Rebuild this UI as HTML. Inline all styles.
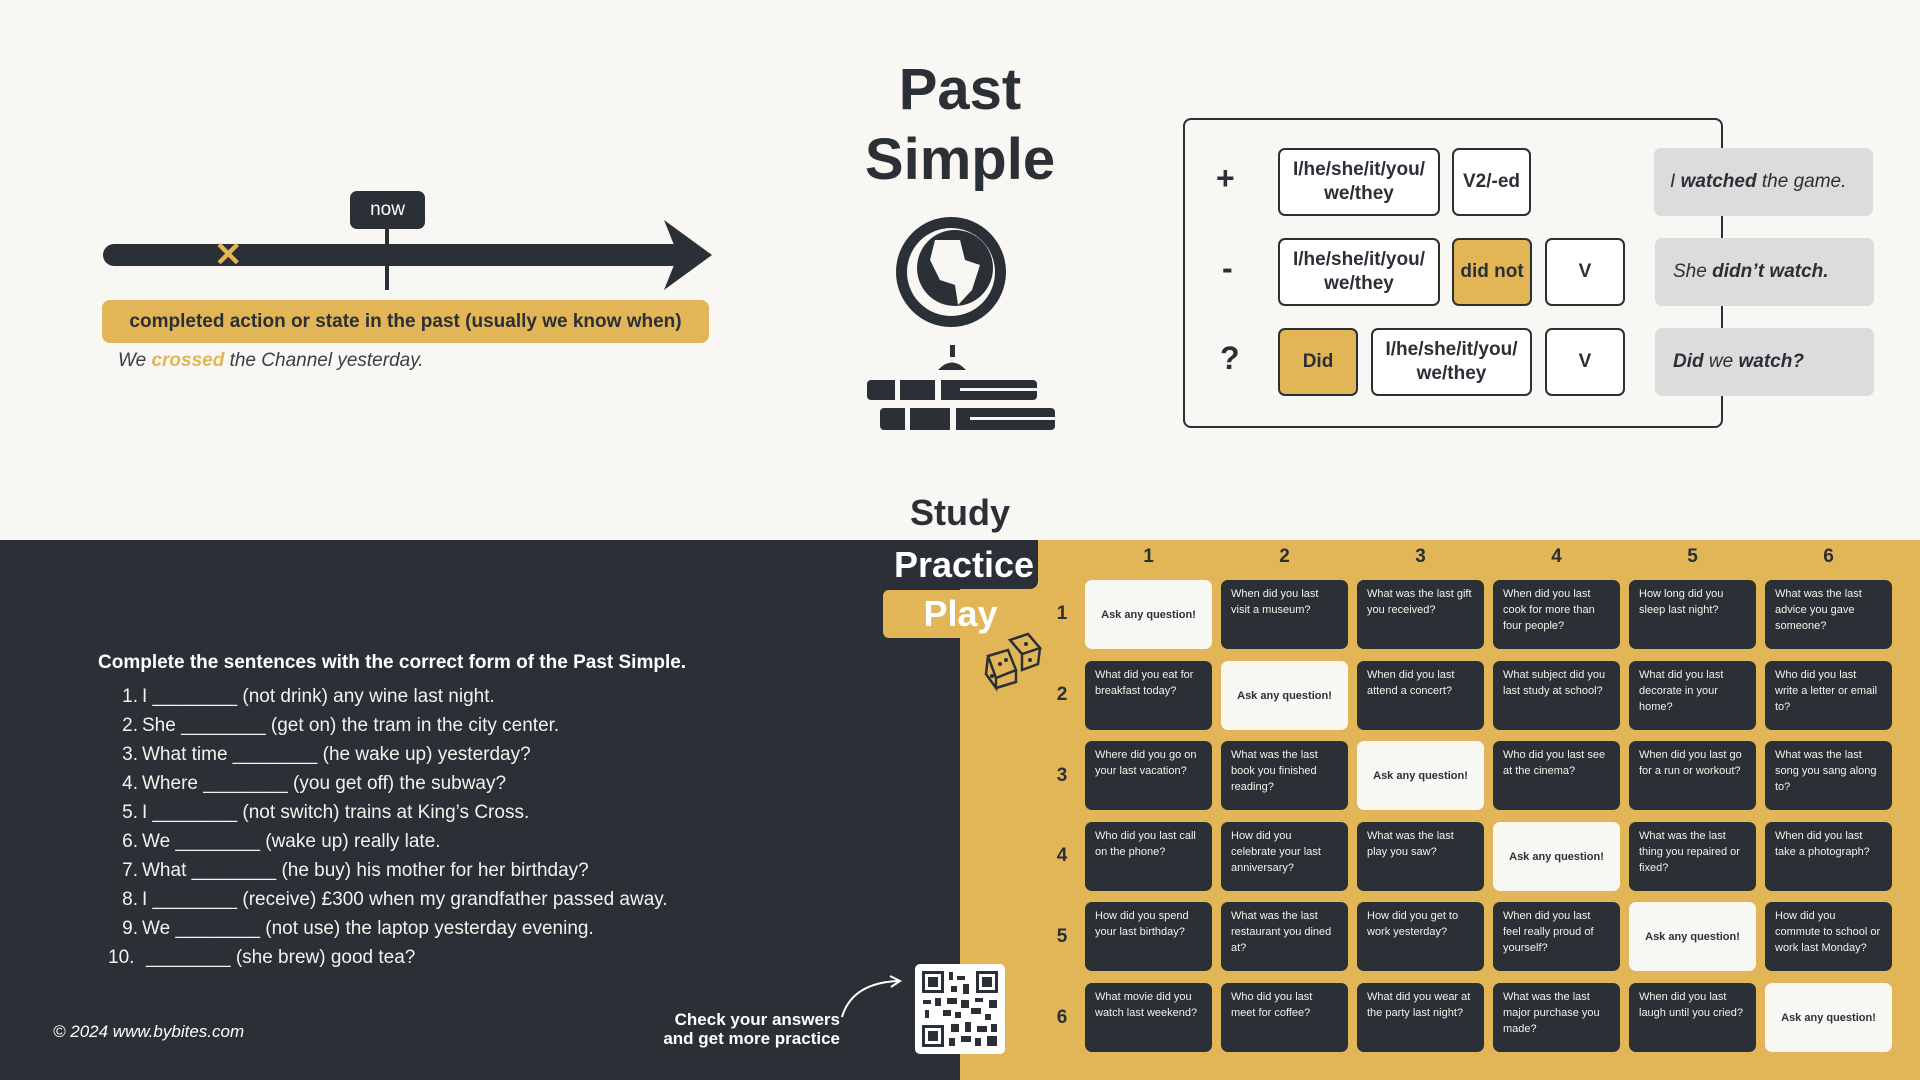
<!DOCTYPE html>
<html><head><meta charset="utf-8"><style>
*{margin:0;padding:0;box-sizing:border-box}
body{width:1920px;height:1080px;position:relative;overflow:hidden;background:#f8f7f3;font-family:"Liberation Sans",sans-serif;color:#2b2f36}
.a{position:absolute}
.c{position:absolute;border:2px solid #2b2f36;border-radius:7px;background:#fff;display:flex;align-items:center;justify-content:center;text-align:center;font-weight:bold;font-size:19px;line-height:24px}
.y{background:#e2b656}
.g{position:absolute;background:#dcdcdc;border-radius:7px;display:flex;align-items:center;padding-left:18px;font-style:italic;font-size:19px}
.cell{position:absolute;width:127px;height:69px;border-radius:7px;background:#2b2f36;color:#f4f2ec;font-size:11px;line-height:16px;padding:6px 10px}
.ask{background:#f8f7f3;color:#2b2f36;font-weight:bold;display:flex;align-items:center;justify-content:center;padding:0}
.ch{position:absolute;font-weight:bold;font-size:19px;color:#2b2f36;width:127px;text-align:center}
.rh{position:absolute;font-weight:bold;font-size:19px;color:#2b2f36;left:1052px;width:20px;text-align:center}
.ex{position:absolute;left:108px;font-size:19px;color:#f4f2ec}
.ex b{display:inline-block;width:30px;text-align:right;font-weight:normal;margin-right:4px}
</style></head><body>

<!-- timeline -->
<div class="a" style="left:103px;top:244px;width:580px;height:22px;background:#2b2f36;border-radius:11px"></div>
<svg class="a" style="left:660px;top:218px" width="56" height="74"><path d="M4 2 L52 37 L4 72 L18 37 Z" fill="#2b2f36"/></svg>
<div class="a" style="left:385px;top:220px;width:4px;height:70px;background:#2b2f36"></div>
<div class="a" style="left:350px;top:191px;width:75px;height:38px;background:#2b2f36;border-radius:7px;color:#fff;font-size:19px;text-align:center;line-height:38px">now</div>
<div class="a" style="left:214px;top:235px;font-size:34px;color:#e2b656;font-weight:bold;line-height:40px">✕</div>
<div class="a" style="left:102px;top:300px;width:607px;height:43px;background:#e2b656;border-radius:8px;font-weight:bold;font-size:19px;line-height:43px;text-align:center">completed action or state in the past (usually we know when)</div>
<div class="a" style="left:118px;top:350px;font-style:italic;font-size:19px;color:#3a3e45">We <span style="color:#e2b656;font-weight:bold">crossed</span> the Channel yesterday.</div>

<!-- title -->
<div class="a" style="left:760px;top:55px;width:400px;text-align:center;font-weight:bold;font-size:58px;line-height:70px">Past<br>Simple</div>
<svg class="a" style="left:860px;top:210px" width="200" height="225">
<circle cx="91" cy="62" r="55" fill="#2b2f36"/>
<circle cx="91" cy="62" r="44" fill="#f8f7f3"/>
<circle cx="95" cy="58" r="38" fill="#2b2f36"/>
<path d="M75 30 L100 30 L105 50 L120 55 L112 80 L98 95 L95 75 L80 70 L70 50 Z" fill="#f8f7f3"/>
<rect x="90" y="135" width="5" height="12" fill="#2b2f36"/>
<path d="M78 160 Q92 145 106 160 Z" fill="#2b2f36"/>
<rect x="7" y="170" width="170" height="20" rx="4" fill="#2b2f36"/>
<rect x="20" y="198" width="175" height="22" rx="4" fill="#2b2f36"/>
<rect x="35" y="170" width="5" height="20" fill="#f8f7f3"/><rect x="75" y="170" width="6" height="20" fill="#f8f7f3"/>
<rect x="45" y="198" width="5" height="22" fill="#f8f7f3"/><rect x="90" y="198" width="6" height="22" fill="#f8f7f3"/>
<rect x="100" y="178" width="80" height="3" fill="#f8f7f3"/><rect x="110" y="207" width="90" height="3" fill="#f8f7f3"/>
</svg>

<!-- grammar table -->
<div class="a" style="left:1183px;top:118px;width:540px;height:310px;border:2px solid #2b2f36;border-radius:8px"></div>
<div class="a" style="left:1216px;top:160px;font-size:32px;font-weight:bold">+</div>
<div class="a" style="left:1222px;top:250px;font-size:32px;font-weight:bold">-</div>
<div class="a" style="left:1220px;top:340px;font-size:32px;font-weight:bold">?</div>
<div class="c" style="left:1278px;top:148px;width:162px;height:68px">I/he/she/it/you/<br>we/they</div>
<div class="c" style="left:1452px;top:148px;width:79px;height:68px">V2/-ed</div>
<div class="c" style="left:1278px;top:238px;width:162px;height:68px">I/he/she/it/you/<br>we/they</div>
<div class="c y" style="left:1452px;top:238px;width:80px;height:68px">did not</div>
<div class="c" style="left:1545px;top:238px;width:80px;height:68px">V</div>
<div class="c y" style="left:1278px;top:328px;width:80px;height:68px">Did</div>
<div class="c" style="left:1371px;top:328px;width:161px;height:68px">I/he/she/it/you/<br>we/they</div>
<div class="c" style="left:1545px;top:328px;width:80px;height:68px">V</div>
<div class="g" style="left:1654px;top:148px;width:219px;height:68px;padding-left:16px">I&nbsp;<b>watched</b>&nbsp;the game.</div>
<div class="g" style="left:1655px;top:238px;width:219px;height:68px">She&nbsp;<b>didn’t watch.</b></div>
<div class="g" style="left:1655px;top:328px;width:219px;height:68px"><b>Did</b>&nbsp;we&nbsp;<b>watch?</b></div>

<!-- bottom panels -->
<div class="a" style="left:0;top:540px;width:960px;height:540px;background:#2b2f36"></div>
<div class="a" style="left:960px;top:540px;width:960px;height:540px;background:#e2b656"></div>
<div class="a" style="left:760px;top:492px;width:400px;text-align:center;font-weight:bold;font-size:36px">Study</div>
<div class="a" style="left:890px;top:540px;width:148px;height:49px;background:#2b2f36;border-radius:0 0 8px 0;color:#fff;font-weight:bold;font-size:36px;text-align:center;line-height:49px">Practice</div>
<div class="a" style="left:883px;top:590px;width:155px;height:48px;background:#e2b656;border-radius:6px;color:#fff;font-weight:bold;font-size:36px;text-align:center;line-height:48px">Play</div>
<svg class="a" style="left:982px;top:630px" width="64" height="64"><g fill="none" stroke="#2b2f36" stroke-width="2.5"><path d="M6 26 L26 20 L34 40 L14 48 Z"/><path d="M6 26 L4 44 L14 58 L14 48"/><path d="M14 58 L34 52 L34 40"/><path d="M28 10 L46 4 L58 18 L40 24 Z"/><path d="M40 24 L40 40 L56 34 L58 18"/></g><g fill="#2b2f36"><circle cx="18" cy="34" r="2"/><circle cx="24" cy="30" r="2"/><circle cx="10" cy="46" r="2"/><circle cx="44" cy="14" r="2"/><circle cx="48" cy="30" r="2"/></g></svg>

<div class="a" style="left:98px;top:652px;font-weight:bold;font-size:19px;color:#fff">Complete the sentences with the correct form of the Past Simple.</div>
<div class="ex" style="top:686px"><b>1.</b>I ________ (not drink) any wine last night.</div>
<div class="ex" style="top:715px"><b>2.</b>She ________ (get on) the tram in the city center.</div>
<div class="ex" style="top:744px"><b>3.</b>What time ________ (he wake up) yesterday?</div>
<div class="ex" style="top:773px"><b>4.</b>Where ________ (you get off) the subway?</div>
<div class="ex" style="top:802px"><b>5.</b>I ________ (not switch) trains at King’s Cross.</div>
<div class="ex" style="top:831px"><b>6.</b>We ________ (wake up) really late.</div>
<div class="ex" style="top:860px"><b>7.</b>What ________ (he buy) his mother for her birthday?</div>
<div class="ex" style="top:889px"><b>8.</b>I ________ (receive) £300 when my grandfather passed away.</div>
<div class="ex" style="top:918px"><b>9.</b>We ________ (not use) the laptop yesterday evening.</div>
<div class="ex" style="top:947px"><b style="width:26px;margin-right:12px">10.</b>________ (she brew) good tea?</div>
<div class="a" style="left:53px;top:1022px;font-style:italic;font-size:17px;color:#fff">© 2024 www.bybites.com</div>
<div class="a" style="left:600px;top:1010px;width:240px;text-align:right;font-weight:bold;font-size:17px;line-height:19px;color:#fff">Check your answers<br>and get more practice</div>
<svg class="a" style="left:838px;top:975px" width="70" height="45"><path d="M4 42 Q14 8 60 6" fill="none" stroke="#fff" stroke-width="2"/><path d="M52 1 L62 6 L53 12" fill="none" stroke="#fff" stroke-width="2"/></svg>
<svg class="a" style="left:915px;top:964px" width="90" height="90"><rect width="90" height="90" rx="5" fill="#fff"/>
<g fill="#2b2f36"><rect x="7" y="7" width="22" height="22"/><rect x="61" y="7" width="22" height="22"/><rect x="7" y="61" width="22" height="22"/></g>
<g fill="#fff"><rect x="10" y="10" width="16" height="16"/><rect x="64" y="10" width="16" height="16"/><rect x="10" y="64" width="16" height="16"/></g>
<g fill="#2b2f36"><rect x="13" y="13" width="10" height="10"/><rect x="67" y="13" width="10" height="10"/><rect x="13" y="67" width="10" height="10"/>
<rect x="34" y="8" width="4" height="8"/><rect x="42" y="12" width="8" height="4"/><rect x="36" y="22" width="6" height="6"/><rect x="48" y="20" width="6" height="10"/>
<rect x="8" y="36" width="8" height="4"/><rect x="20" y="34" width="6" height="8"/><rect x="32" y="34" width="10" height="6"/><rect x="46" y="36" width="8" height="8"/><rect x="60" y="34" width="8" height="4"/><rect x="74" y="36" width="8" height="8"/>
<rect x="10" y="46" width="4" height="8"/><rect x="28" y="46" width="8" height="6"/><rect x="40" y="48" width="6" height="6"/><rect x="56" y="44" width="10" height="6"/><rect x="70" y="50" width="6" height="6"/>
<rect x="36" y="60" width="8" height="8"/><rect x="50" y="58" width="6" height="10"/><rect x="62" y="62" width="10" height="6"/><rect x="76" y="60" width="6" height="8"/>
<rect x="34" y="74" width="6" height="8"/><rect x="46" y="72" width="10" height="6"/><rect x="60" y="74" width="6" height="8"/><rect x="72" y="72" width="10" height="10"/></g></svg>

<!-- game grid -->
<div class="ch" style="left:1085px;top:546px">1</div>
<div class="ch" style="left:1221px;top:546px">2</div>
<div class="ch" style="left:1357px;top:546px">3</div>
<div class="ch" style="left:1493px;top:546px">4</div>
<div class="ch" style="left:1629px;top:546px">5</div>
<div class="ch" style="left:1765px;top:546px">6</div>
<div class="rh" style="top:603px">1</div>
<div class="rh" style="top:684px">2</div>
<div class="rh" style="top:765px">3</div>
<div class="rh" style="top:845px">4</div>
<div class="rh" style="top:926px">5</div>
<div class="rh" style="top:1007px">6</div>

<div class="cell ask" style="left:1085px;top:580px">Ask any question!</div>
<div class="cell" style="left:1221px;top:580px">When did you last visit a museum?</div>
<div class="cell" style="left:1357px;top:580px">What was the last gift you received?</div>
<div class="cell" style="left:1493px;top:580px">When did you last cook for more than four people?</div>
<div class="cell" style="left:1629px;top:580px">How long did you sleep last night?</div>
<div class="cell" style="left:1765px;top:580px">What was the last advice you gave someone?</div>

<div class="cell" style="left:1085px;top:661px">What did you eat for breakfast today?</div>
<div class="cell ask" style="left:1221px;top:661px">Ask any question!</div>
<div class="cell" style="left:1357px;top:661px">When did you last attend a concert?</div>
<div class="cell" style="left:1493px;top:661px">What subject did you last study at school?</div>
<div class="cell" style="left:1629px;top:661px">What did you last decorate in your home?</div>
<div class="cell" style="left:1765px;top:661px">Who did you last write a letter or email to?</div>

<div class="cell" style="left:1085px;top:741px">Where did you go on your last vacation?</div>
<div class="cell" style="left:1221px;top:741px">What was the last book you finished reading?</div>
<div class="cell ask" style="left:1357px;top:741px">Ask any question!</div>
<div class="cell" style="left:1493px;top:741px">Who did you last see at the cinema?</div>
<div class="cell" style="left:1629px;top:741px">When did you last go for a run or workout?</div>
<div class="cell" style="left:1765px;top:741px">What was the last song you sang along to?</div>

<div class="cell" style="left:1085px;top:822px">Who did you last call on the phone?</div>
<div class="cell" style="left:1221px;top:822px">How did you celebrate your last anniversary?</div>
<div class="cell" style="left:1357px;top:822px">What was the last play you saw?</div>
<div class="cell ask" style="left:1493px;top:822px">Ask any question!</div>
<div class="cell" style="left:1629px;top:822px">What was the last thing you repaired or fixed?</div>
<div class="cell" style="left:1765px;top:822px">When did you last take a photograph?</div>

<div class="cell" style="left:1085px;top:902px">How did you spend your last birthday?</div>
<div class="cell" style="left:1221px;top:902px">What was the last restaurant you dined at?</div>
<div class="cell" style="left:1357px;top:902px">How did you get to work yesterday?</div>
<div class="cell" style="left:1493px;top:902px">When did you last feel really proud of yourself?</div>
<div class="cell ask" style="left:1629px;top:902px">Ask any question!</div>
<div class="cell" style="left:1765px;top:902px">How did you commute to school or work last Monday?</div>

<div class="cell" style="left:1085px;top:983px">What movie did you watch last weekend?</div>
<div class="cell" style="left:1221px;top:983px">Who did you last meet for coffee?</div>
<div class="cell" style="left:1357px;top:983px">What did you wear at the party last night?</div>
<div class="cell" style="left:1493px;top:983px">What was the last major purchase you made?</div>
<div class="cell" style="left:1629px;top:983px">When did you last laugh until you cried?</div>
<div class="cell ask" style="left:1765px;top:983px">Ask any question!</div>
</body></html>
